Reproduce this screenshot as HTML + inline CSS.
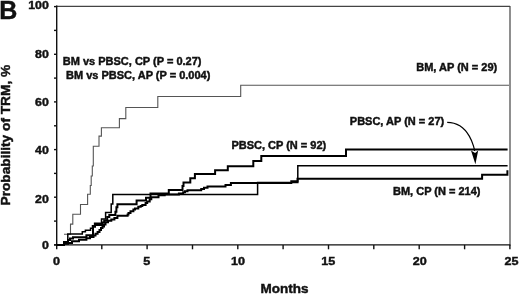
<!DOCTYPE html>
<html><head><meta charset="utf-8"><style>
html,body{margin:0;padding:0;background:#fff;width:520px;height:294px;overflow:hidden}
svg{display:block;will-change:transform}
text{font-family:"Liberation Sans",sans-serif;font-weight:bold;fill:#111;stroke:#111;stroke-width:0.45px}
</style></head><body>
<svg width="520" height="294" viewBox="0 0 520 294">
<rect x="0" y="0" width="520" height="294" fill="#fff"/>
<text x="-0.7" y="18.6" font-size="25">B</text>
<g font-size="12">
<text transform="translate(48.8,249.27) scale(1.03,0.92)" text-anchor="end">0</text>
<text transform="translate(48.8,202.57) scale(1.03,0.92)" text-anchor="end">20</text>
<text transform="translate(48.8,154.27) scale(1.03,0.92)" text-anchor="end">40</text>
<text transform="translate(48.8,106.32) scale(1.03,0.92)" text-anchor="end">60</text>
<text transform="translate(48.8,58.27) scale(1.03,0.92)" text-anchor="end">80</text>
<text transform="translate(48.8,9.42) scale(1.03,0.92)" text-anchor="end">100</text>
<text transform="translate(56.50,264.7) scale(1.05,0.95)" text-anchor="middle">0</text>
<text transform="translate(146.85,264.7) scale(1.05,0.95)" text-anchor="middle">5</text>
<text transform="translate(238.10,264.7) scale(1.05,0.95)" text-anchor="middle">10</text>
<text transform="translate(328.35,264.7) scale(1.05,0.95)" text-anchor="middle">15</text>
<text transform="translate(419.85,264.7) scale(1.05,0.95)" text-anchor="middle">20</text>
<text transform="translate(511.40,264.7) scale(1.05,0.95)" text-anchor="middle">25</text>
</g>
<text font-size="13.7" transform="translate(10.2,205.5) rotate(-90)">Probability of TRM, %</text>
<text x="260.6" y="293.2" font-size="13.5">Months</text>
<g stroke="#444" stroke-width="1.2" fill="none">
<line x1="56" y1="6.3" x2="510" y2="6.3"/>
<line x1="510" y1="6" x2="510" y2="245.5"/>
</g>
<g stroke="#111" stroke-width="1.4" fill="none">
<line x1="56.7" y1="5.6" x2="56.7" y2="249.3"/>
<line x1="54" y1="244.9" x2="510.4" y2="244.9"/>
<line x1="54" y1="244.9" x2="56.7" y2="244.9"/>
<line x1="54" y1="221.1" x2="56.7" y2="221.1"/>
<line x1="54" y1="197.2" x2="56.7" y2="197.2"/>
<line x1="54" y1="173.4" x2="56.7" y2="173.4"/>
<line x1="54" y1="149.6" x2="56.7" y2="149.6"/>
<line x1="54" y1="125.8" x2="56.7" y2="125.8"/>
<line x1="54" y1="101.9" x2="56.7" y2="101.9"/>
<line x1="54" y1="78.1" x2="56.7" y2="78.1"/>
<line x1="54" y1="54.3" x2="56.7" y2="54.3"/>
<line x1="54" y1="30.4" x2="56.7" y2="30.4"/>
<line x1="54" y1="6.6" x2="56.7" y2="6.6"/>
<line x1="101.8" y1="244.9" x2="101.8" y2="249.3"/>
<line x1="147.1" y1="244.9" x2="147.1" y2="249.3"/>
<line x1="192.5" y1="244.9" x2="192.5" y2="249.3"/>
<line x1="237.8" y1="244.9" x2="237.8" y2="249.3"/>
<line x1="283.1" y1="244.9" x2="283.1" y2="249.3"/>
<line x1="328.5" y1="244.9" x2="328.5" y2="249.3"/>
<line x1="373.8" y1="244.9" x2="373.8" y2="249.3"/>
<line x1="419.2" y1="244.9" x2="419.2" y2="249.3"/>
<line x1="464.6" y1="244.9" x2="464.6" y2="249.3"/>
<line x1="509.9" y1="244.9" x2="509.9" y2="249.3"/>
</g>
<polyline points="64.0,234.3 70.5,234.3 70.5,224.1 72.8,224.1 72.8,214.3 80.5,214.3 80.5,204.5 87.6,204.5 87.6,194.2 90.3,194.2 90.3,185.5 91.2,185.5 91.2,176.0 92.3,176.0 92.3,166.0 93.3,166.0 93.3,146.3 99.0,146.3 99.0,136.1 101.4,136.1 101.4,127.8 119.4,127.8 119.4,118.6 125.8,118.6 125.8,107.5 157.8,107.5 157.8,96.5 240.7,96.5 240.7,85.3 509.0,85.3 509.0,85.3" fill="none" stroke="#555" stroke-width="1.1" stroke-linejoin="miter"/>
<polyline points="56.7,244.9 64.0,244.9 64.0,243.8 68.0,243.8 68.0,243.0 72.0,243.0 72.0,241.2 79.0,241.2 79.0,239.8 86.4,239.8 86.4,238.2 90.0,238.2 90.0,237.0 93.5,237.0 93.5,235.5 95.5,235.5 95.5,233.8 97.6,233.8 97.6,232.0 99.5,232.0 99.5,230.0 101.0,230.0 101.0,228.0 102.5,228.0 102.5,226.5 104.0,226.5 104.0,224.5 105.5,224.5 105.5,222.2 108.0,222.2 108.0,220.8 111.3,220.8 111.3,219.4 114.4,219.4 114.4,217.9 117.4,217.9 117.4,215.7 127.6,215.7 127.6,214.6 128.5,214.6 128.5,212.9 130.5,212.9 130.5,211.2 133.4,211.2 133.4,209.6 135.0,209.6 135.0,208.4 138.3,208.4 138.3,206.7 140.7,206.7 140.7,205.9 142.3,205.9 142.3,205.1 145.6,205.1 145.6,203.0 147.2,203.0 147.2,201.4 149.7,201.4 149.7,199.2 151.3,199.2 151.3,197.2 158.5,197.2 158.5,195.3 164.7,195.3 164.7,194.5 178.9,194.5 178.9,193.4 183.2,193.4 183.2,192.2 185.0,192.2 185.0,191.2 187.5,191.2 187.5,190.2 201.2,190.2 201.2,188.9 204.0,188.9 204.0,187.7 207.5,187.7 207.5,186.5 225.5,186.5 225.5,185.0 230.9,185.0 230.9,183.1 291.3,183.1 291.3,181.2 297.5,181.2 297.5,178.8 482.1,178.8 482.1,174.8 507.4,174.8 507.4,170.2" fill="none" stroke="#000" stroke-width="2.0" stroke-linejoin="miter"/>
<polyline points="56.7,244.9 64.0,244.9 64.0,242.0 68.0,242.0 68.0,240.0 70.0,240.0 70.0,238.5 73.0,238.5 73.0,237.2 86.4,237.2 86.4,235.3 93.0,235.3 93.0,226.8 95.0,226.8 95.0,225.0 102.1,225.0 102.1,222.6 104.2,222.6 104.2,220.5 107.2,220.5 107.2,216.9 109.3,216.9 109.3,214.9 115.4,214.9 115.4,211.8 116.4,211.8 116.4,207.2 117.4,207.2 117.4,204.2 136.6,204.2 136.6,200.6 146.0,200.6 146.0,197.8 150.5,197.8 150.5,193.6 168.8,193.6 168.8,190.1 182.5,190.1 182.5,186.0 183.5,186.0 183.5,182.5 190.3,182.5 190.3,178.3 194.9,178.3 194.9,174.1 215.1,174.1 215.1,170.3 227.8,170.3 227.8,166.2 253.3,166.2 253.3,161.1 261.3,161.1 261.3,156.0 346.0,156.0 346.0,149.6 507.6,149.6 507.6,149.6" fill="none" stroke="#000" stroke-width="2.0" stroke-linejoin="miter"/>
<polyline points="56.7,244.9 64.0,244.9 64.0,242.8 67.8,242.8 67.8,234.1 82.3,234.1 82.3,231.7 85.4,231.7 85.4,230.3 90.5,230.3 90.5,228.3 92.5,228.3 92.5,225.7 94.6,225.7 94.6,223.2 101.5,223.2 101.5,219.0 105.6,219.0 105.6,212.4 111.2,212.4 111.2,203.9 112.8,203.9 112.8,194.5 257.6,194.5 257.6,182.6 297.8,182.6 297.8,165.7 507.6,165.7 507.6,165.7" fill="none" stroke="#000" stroke-width="1.5" stroke-linejoin="miter"/>
<g font-size="11">
<text x="62.8" y="64.6">BM vs PBSC, CP (P = 0.27)</text>
<text x="66" y="78.9">BM vs PBSC, AP (P = 0.004)</text>
</g>
<g font-size="11">
<text x="416.2" y="70.9">BM, AP (N = 29)</text>
<text x="349.8" y="125.1">PBSC, AP (N = 27)</text>
<text x="231.4" y="148.7">PBSC, CP (N = 92)</text>
<text x="393" y="194.9">BM, CP (N = 214)</text>
</g>
<path d="M447.2,122.4 C469.7,122.4 474.5,149.5 474.6,151" fill="none" stroke="#000" stroke-width="1.2"/>
<path d="M471,150.4 L475.1,152.9 L478.2,150.4 L475.4,164.2 Z" fill="#000"/>
</svg>
</body></html>
